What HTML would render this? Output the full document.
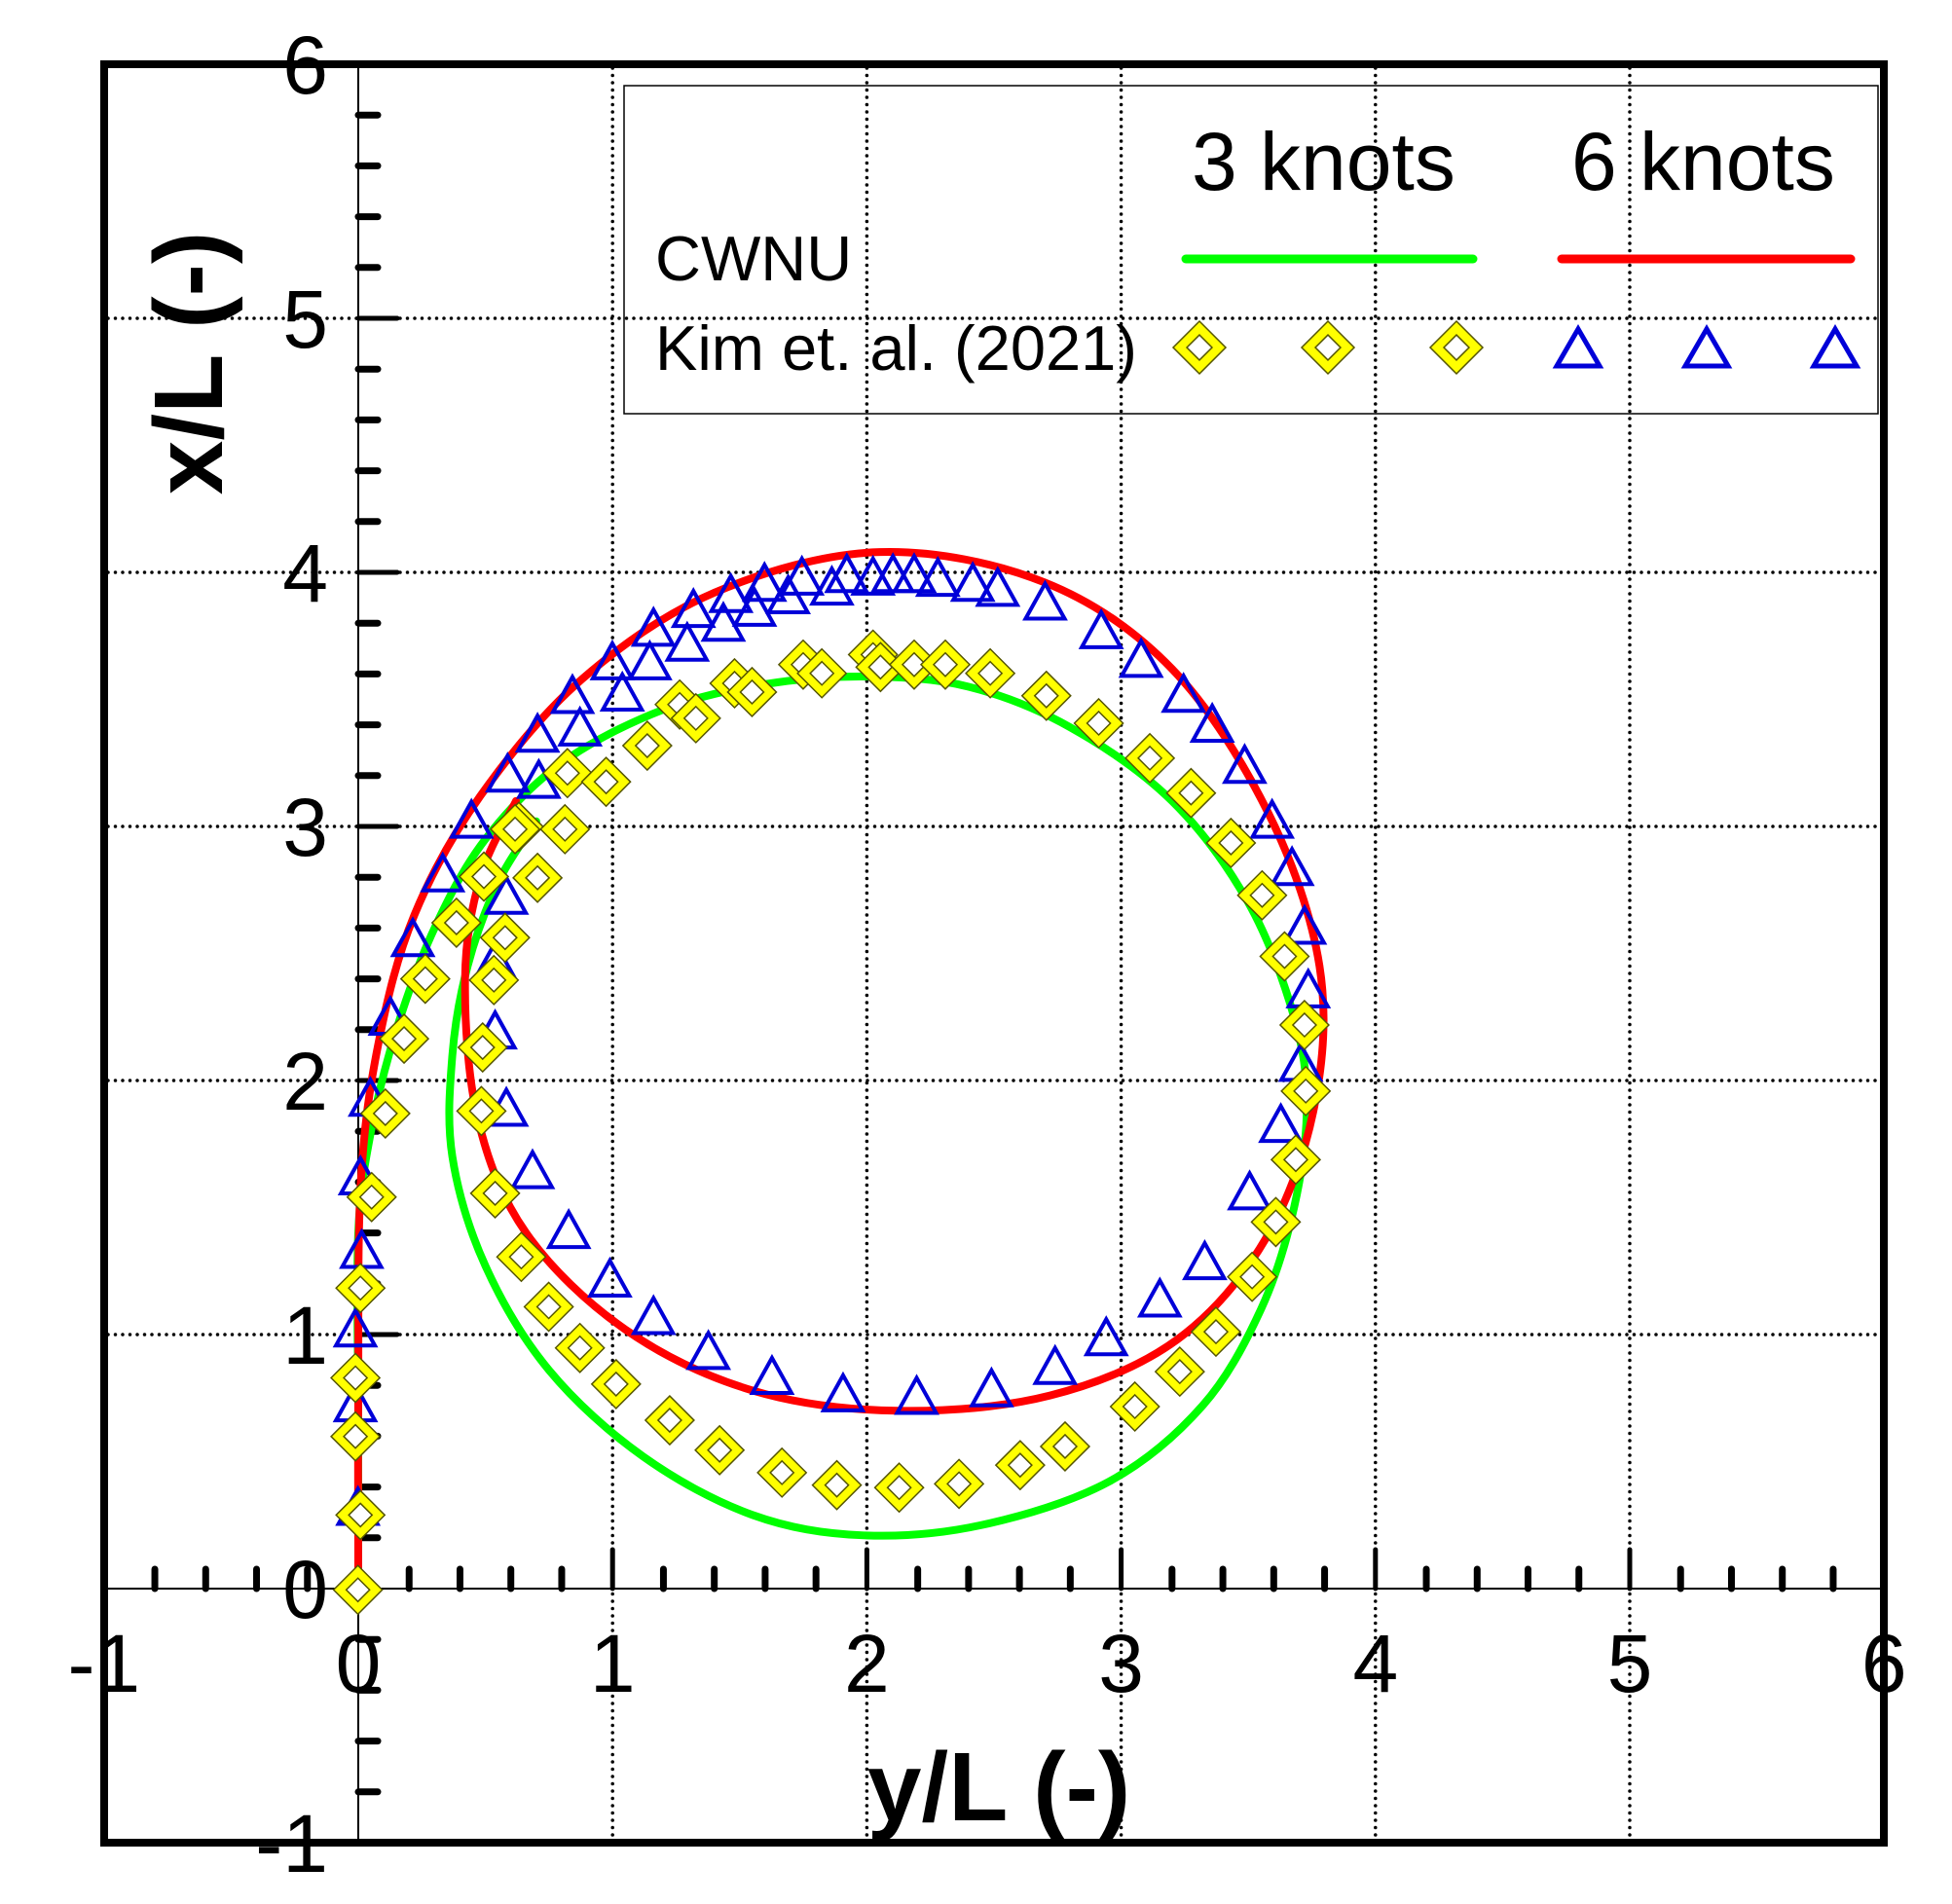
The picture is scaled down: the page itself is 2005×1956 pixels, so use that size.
<!DOCTYPE html>
<html><head><meta charset="utf-8"><style>
html,body{margin:0;padding:0;background:#fff;}
svg{display:block;}
text{font-family:"Liberation Sans",Arial,sans-serif;fill:#000;}
</style></head><body>
<svg id="s" width="2005" height="1956" viewBox="0 0 2005 1956" xmlns="http://www.w3.org/2000/svg">
<rect width="2005" height="1956" fill="#fff"/>
<g id="grid" stroke="#000" stroke-width="3.5" stroke-dasharray="0 7.5" stroke-linecap="round" fill="none"></g>
<g id="axes" stroke="#000" fill="none"></g>
<g id="curves" fill="none" stroke-width="8" stroke-linejoin="round" stroke-linecap="round"></g>
<g id="tri" fill="none" stroke="#0000d8" stroke-width="4"></g>
<g id="dia"></g>
<rect x="107" y="66" width="1828" height="1827" fill="none" stroke="#000" stroke-width="8"/>
<g id="labels" font-size="84"></g>
<text x="0" y="0" font-size="100" font-weight="bold" text-anchor="middle" transform="translate(228,373) rotate(-90)">x/L (-)</text>
<text x="1026" y="1870" font-size="100" font-weight="bold" text-anchor="middle">y/L (-)</text>
<rect x="641" y="88" width="1288" height="337" fill="none" stroke="#000" stroke-width="1.5"/>
<text x="1224" y="195" font-size="84">3 knots</text>
<text x="1614" y="195" font-size="84">6 knots</text>
<text x="673" y="288" font-size="65">CWNU</text>
<text x="673" y="380" font-size="65">Kim et. al. (2021)</text>
<line x1="1218" y1="266" x2="1513" y2="266" stroke="#00ff00" stroke-width="9" stroke-linecap="round"/>
<line x1="1604" y1="266" x2="1901" y2="266" stroke="#ff0000" stroke-width="9" stroke-linecap="round"/>
<g id="leg"></g>
</svg>
<script>
var NS="http://www.w3.org/2000/svg";
function px(X){return 368+261.2*X;} function py(Y){return 1632-261*Y;}
function el(p,t,a){var e=document.createElementNS(NS,t);for(var k in a)e.setAttribute(k,a[k]);document.getElementById(p).appendChild(e);return e;}
for(var i=1;i<=5;i++){el('grid','line',{x1:px(i),y1:70,x2:px(i),y2:1889});el('grid','line',{x1:111,y1:py(i),x2:1931,y2:py(i)});}
el('axes','line',{x1:368,y1:70,x2:368,y2:1889,'stroke-width':2});
el('axes','line',{x1:111,y1:1632,x2:1931,y2:1632,'stroke-width':2});
for(var k=-5;k<=30;k++){var v=k*0.2;var maj=(k%5===0);
 if(v>-0.99&&v<5.99&&k!==0){var x=px(v);el('axes','line',{x1:x,y1:1632,x2:x,y2:1632-(maj?40:20),'stroke-width':maj?5:7,'stroke-linecap':'round'});}
 if(v>-0.99&&v<5.99&&k!==0){var y=py(v);el('axes','line',{x1:368,y1:y,x2:368+(maj?40:20),y2:y,'stroke-width':maj?5:7,'stroke-linecap':'round'});}
}
for(var i=-1;i<=6;i++){var t=el('labels','text',{x:px(i),y:1738,'text-anchor':'middle'});t.textContent=String(i);
 var t2=el('labels','text',{x:337,y:py(i)+30,'text-anchor':'end'});t2.textContent=String(i);}
function cr(pts){var d='M'+px(pts[0][0])+','+py(pts[0][1]);var P=pts.map(function(p){return [px(p[0]),py(p[1])];});
 for(var i=0;i<P.length-1;i++){var p0=P[i-1]||P[i],p1=P[i],p2=P[i+1],p3=P[i+2]||P[i+1];
 d+=' C'+(p1[0]+(p2[0]-p0[0])/6)+','+(p1[1]+(p2[1]-p0[1])/6)+' '+(p2[0]-(p3[0]-p1[0])/6)+','+(p2[1]-(p3[1]-p1[1])/6)+' '+p2[0]+','+p2[1];}
 return d;}
var g=[[0,0],[0,0.7],[0,1.4],[0.05,1.8],[0.15,2.2],[0.3,2.6],[0.5,2.95],[0.8,3.25],[1.2,3.46],[1.6,3.56],[2.0,3.59],[2.4,3.55],[2.8,3.39],[3.2,3.1],[3.5,2.7],[3.68,2.25],[3.73,1.9],[3.68,1.5],[3.55,1.1],[3.32,0.72],[2.95,0.42],[2.45,0.25],[1.98,0.21],[1.55,0.29],[1.12,0.52],[0.75,0.86],[0.5,1.27],[0.37,1.7],[0.37,2.1],[0.43,2.45],[0.55,2.78],[0.7,3.02]];
var r=[[0,0],[0,0.8],[0.01,1.6],[0.08,2.15],[0.22,2.65],[0.48,3.12],[0.88,3.58],[1.4,3.92],[2.05,4.08],[2.7,3.96],[3.2,3.62],[3.58,3.05],[3.78,2.45],[3.76,1.9],[3.57,1.38],[3.22,0.98],[2.72,0.76],[2.12,0.7],[1.55,0.78],[1.05,1.02],[0.66,1.4],[0.47,1.85],[0.42,2.4],[0.48,2.8],[0.62,3.1]];
el('curves','path',{d:cr(g),stroke:'#00ff00'});
el('curves','path',{d:cr(r),stroke:'#ff0000'});
var S=1.281;
function triAt(p,x,y,w,h){el(p,'polygon',{points:(x)+','+(y-h/2)+' '+(x+w/2)+','+(y+h/2)+' '+(x-w/2)+','+(y+h/2)});}
function diaAt(p,x,y,a){el(p,'polygon',{points:x+','+(y-a)+' '+(x+a)+','+y+' '+x+','+(y+a)+' '+(x-a)+','+y,fill:'#ffff00',stroke:'#555500','stroke-width':1.5});
 var b=a*0.48;el(p,'polygon',{points:x+','+(y-b)+' '+(x+b)+','+y+' '+x+','+(y+b)+' '+(x-b)+','+y,fill:'#fff',stroke:'#555500','stroke-width':1.5});}
var T=[[287,1208],[285,1125],[285,1065],[290,1002],[289,943],[297,880],[313,815],[331,752],[355,700],[378,657],[407,620],[431,588],[459,557],[491,530],[524,503],[556,488],[586,476],[613,467],[643,462],[679,460],[700,462],[716,460],[733,460],[752,463],[780,467],[800,471],[838,482],[883,505],[915,528],[949,556],[972,580],[998,613],[1020,657],[1036,695],[1046,742],[1049,793],[1043,852],[1027,901],[1002,955],[966,1011],[930,1041],[887,1072],[846,1095],[795,1113],[735,1119],[676,1117],[619,1103],[568,1083],[524,1055],[489,1025],[456,986],[427,938],[406,888],[397,826],[397,770],[406,718],[432,625],[465,583],[499,555],[521,530],[551,515],[580,499],[605,487],[632,477],[667,470]];
T.forEach(function(p){triAt('tri',p[0]*S,p[1]*S,40,36);});
var D=[[287,1275],[289,1215],[285,1152],[285,1105],[289,1033],[298,960],[309,893],[324,833],[341,785],[366,740],[388,703],[416,663],[455,620],[486,627],[519,598],[545,565],[558,576],[589,548],[603,555],[644,533],[659,540],[700,525],[706,535],[733,533],[758,533],[794,540],[839,558],[881,580],[922,608],[955,636],[987,676],[1012,718],[1030,767],[1046,822],[1047,875],[1039,930],[1023,980],[1004,1024],[975,1068],[946,1100],[910,1128],[854,1160],[818,1175],[769,1190],[721,1193],[671,1191],[627,1181],[577,1163],[537,1139],[494,1110],[465,1081],[440,1048],[418,1008],[397,957],[386,891],[387,840],[396,786],[405,752],[431,704],[413,665],[453,665]];
D.forEach(function(p){diaAt('dia',p[0]*S,p[1]*S,25);});
[1232,1364,1496].forEach(function(x){diaAt('leg',x,357,27);});
var lg=document.getElementById('leg');
[1621,1753,1885].forEach(function(x){var e=document.createElementNS(NS,'polygon');var y=357,w=44,h=38;e.setAttribute('points',x+','+(y-h/2)+' '+(x+w/2)+','+(y+h/2)+' '+(x-w/2)+','+(y+h/2));e.setAttribute('fill','none');e.setAttribute('stroke','#0000d8');e.setAttribute('stroke-width','5');lg.appendChild(e);});
</script>
</body></html>
